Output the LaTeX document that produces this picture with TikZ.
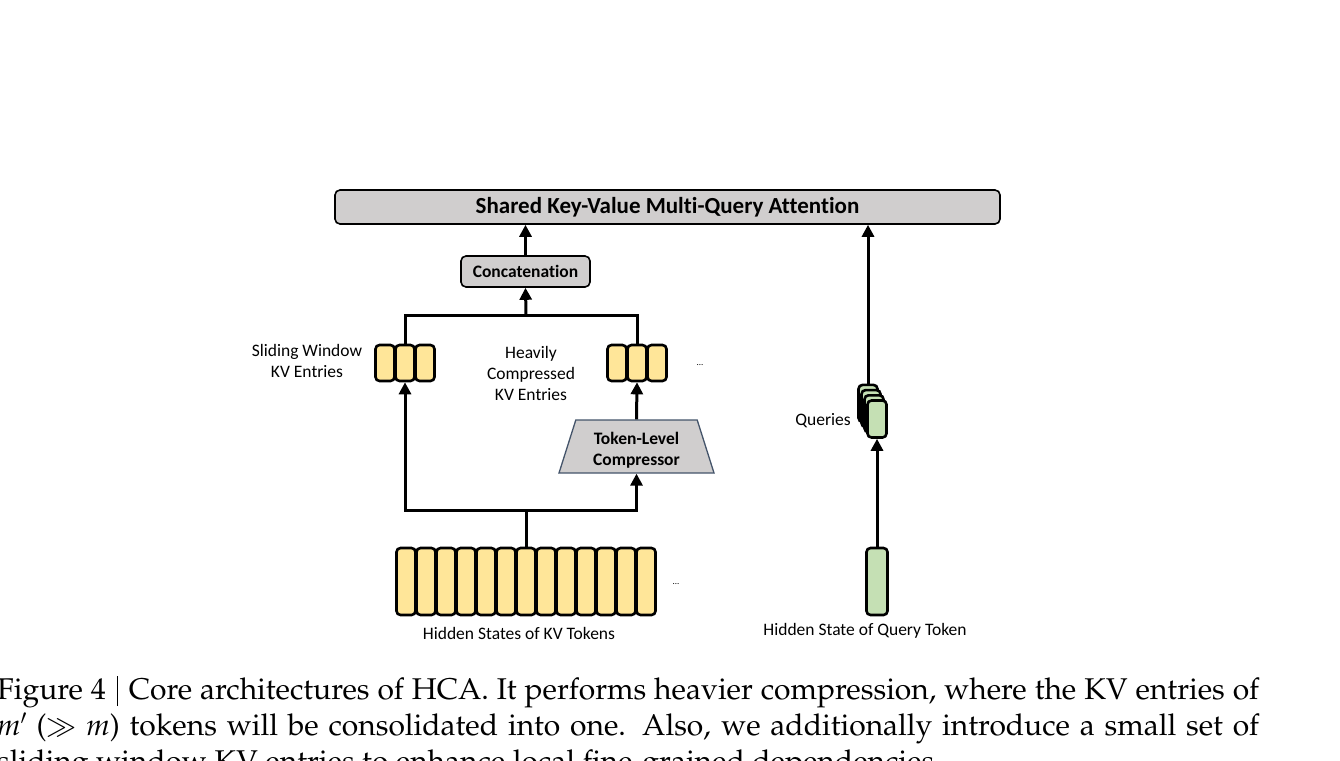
\documentclass[tikz,border=0pt]{standalone}
\usepackage[T1]{fontenc}
\usepackage{fontspec}
\setmainfont{Carlito}[Ligatures=NoCommon]
\DeclareFontShape{OML}{cmm}{m}{it}{<->cmmi10}{}
\DeclareFontShape{OMS}{cmsy}{m}{n}{<->cmsy10}{}
\usetikzlibrary{shapes.geometric, arrows.meta}
\definecolor{kvyellow}{HTML}{FFE699}
\definecolor{qgreen}{HTML}{C5E0B4}
\definecolor{boxgray}{HTML}{D0CECE}
\definecolor{compborder}{HTML}{44546A}
\tikzstyle{block} = [draw, fill=boxgray, rectangle, rounded corners=5pt,
line width=1.6pt, font=\fontsize{17.5}{21}\selectfont\bfseries]
\tikzstyle{kvcell} = [draw, fill=kvyellow, rectangle, rounded corners=4pt,
line width=2.6pt, minimum width=19pt, minimum height=36pt, inner sep=0pt]
\tikzstyle{qcell} = [kvcell, fill=qgreen]
\tikzstyle{lbl} = [font=\fontsize{17.5}{21}\selectfont, align=center]
\tikzstyle{ellip} = [font=\fontsize{9}{10}\selectfont, inner sep=0pt]
\tikzstyle{wire} = [line width=3pt]

\begin{document}
\begin{tikzpicture}[x=1pt, y=-1pt, >={Triangle[width=12pt,length=12pt]}]
	\useasboundingbox (0,0) rectangle (1340,760);
	% We start by placing the attention block and the concatenation
	\node [block, minimum width=665pt, minimum height=34pt,
	font=\fontsize{23}{27}\selectfont\bfseries] (attn) at (667.5,207) {Shared Key-Value Multi-Query Attention};
	\node [block, minimum width=129pt, minimum height=31pt] (concat) at (525.5,271.5) {Concatenation};
	% The two groups of KV entries
	\foreach \i in {1,2,3} {
		\node [kvcell] (sw\i) at (365+20*\i,363) {};
		\node [kvcell] (hc\i) at (597+20*\i,363) {};
	}
	\node [ellip] (dots1) at (700,365) {...};
	\node [lbl] (swlabel) at (307,361) {Sliding Window\\KV Entries};
	\node [lbl] (hclabel) at (531,373) {Heavily\\Compressed\\KV Entries};
	% the strut pushes the two lines a little lower in the trapezium
	\node [trapezium, trapezium stretches body, trapezium angle=69, draw=compborder,
	fill=boxgray, line width=1.3pt, minimum width=155pt, minimum height=53pt,
	inner sep=0pt, align=center, font=\fontsize{17.5}{21}\selectfont\bfseries] (comp)
	at (636.5,446.5) {\rule{0pt}{20pt}Token-Level\\Compressor};
	% Hidden states of the KV tokens
	\foreach \i in {1,...,13}
		\node [kvcell, minimum height=67pt] (h\i) at (386+20*\i,581.5) {};
	\node [ellip] (dots2) at (676,584) {...};
	\node [lbl] (hslabel) at (519,633) {Hidden States of KV Tokens};
	% The query side
	\node [qcell, minimum width=21pt, minimum height=67pt] (hq) at (877,581.5) {};
	\node [lbl] (hqlabel) at (865,631) {Hidden State of Query Token};
	\foreach \i in {3,2,1,0}
		\node [qcell, minimum height=37pt] (q\i) at (877-3*\i,419-5.2*\i) {};
	\node [lbl] (qlabel) at (823,421) {Queries};
	% Once the nodes are placed, we connect them
	\coordinate (split) at (526,510);
	\coordinate (merge) at (526,315);
	\draw [wire] (h7.north) -- (split);
	\draw [wire,->] (split) -| (sw2.south);
	\draw [wire,->] (split) -| (comp.south);
	\draw [wire,->] (comp.north) -- (hc2.south);
	\draw [wire] (sw2.north) -- (sw2.north |- merge) -- (hc2.north |- merge) -- (hc2.north);
	\draw [wire,->] (merge) -- (concat.south);
	\draw [wire,->] (concat.north) -- (concat.north |- attn.south);
	\draw [wire,->] (hq.north) -- (q0.south);
	\draw [wire,->] (q3.north) -- (q3.north |- attn.south);
	% Caption below the figure
	\node [anchor=base west, inner sep=0pt, text width=1262pt, align=justify,
	font=\fontencoding{T1}\fontfamily{ppl}\fontsize{30}{36}\selectfont] (caption) at (-3,699)
	{Figure 4\hspace{11pt}\rule[-7pt]{0.9pt}{30pt}\hspace{11pt}Core architectures of HCA. It performs heavier compression, where the KV entries of\linebreak
	{\itshape m}$'$ ($\gg$ {\itshape m}) tokens will be consolidated into one. Also, we additionally introduce a small set of\linebreak
	sliding window KV entries to enhance local fine-grained dependencies.};
\end{tikzpicture}
\end{document}
